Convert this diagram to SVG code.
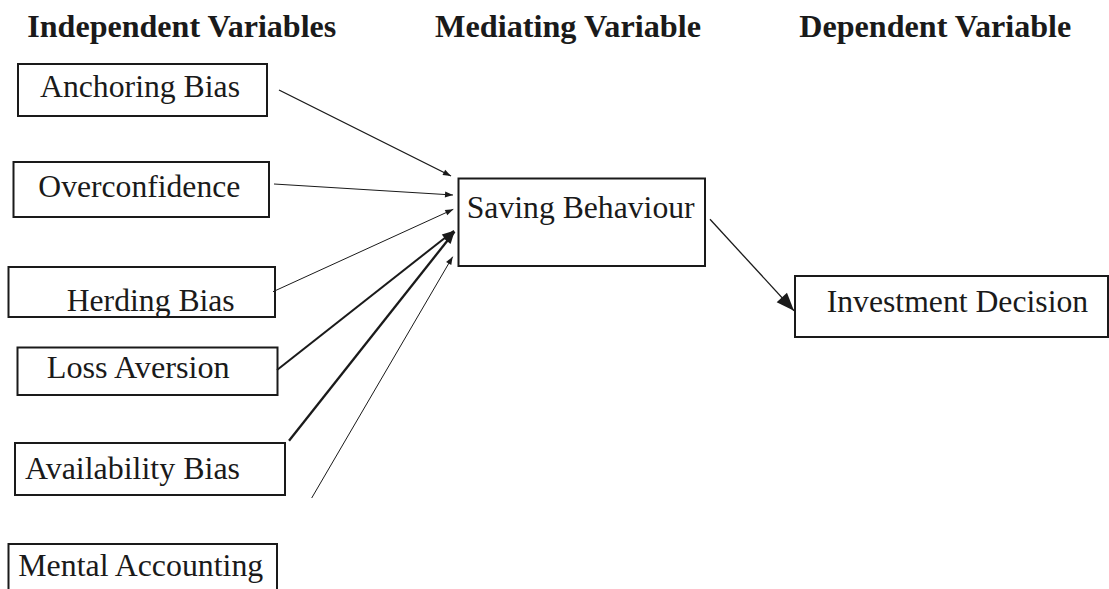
<svg xmlns="http://www.w3.org/2000/svg" width="1109" height="589" viewBox="0 0 1109 589">
<style>
.box{fill:#fff;stroke:#1a1a1a;stroke-width:2}
.t{font-size:31.7px;fill:#1a1a1a}
.h{font-size:31.7px;font-weight:bold;fill:#1a1a1a}
.c{stroke:#1a1a1a;fill:none}
</style>
<defs>
<marker id="a1" markerUnits="userSpaceOnUse" markerWidth="12" markerHeight="12" viewBox="0 0 12 12" refX="9" refY="6" orient="auto">
<path d="M1,3 L9,6 L1,9 Z" fill="#1a1a1a"/>
</marker>
<marker id="a2" markerUnits="userSpaceOnUse" markerWidth="16" markerHeight="16" viewBox="0 0 16 16" refX="13" refY="8" orient="auto">
<path d="M1,3.5 L13,8 L1,12.5 Z" fill="#1a1a1a"/>
</marker>
<marker id="a3" markerUnits="userSpaceOnUse" markerWidth="22" markerHeight="22" viewBox="0 0 22 22" refX="20" refY="11" orient="auto">
<path d="M2,4 L20,11 L2,18 Z" fill="#1a1a1a"/>
</marker>
</defs>
<g id="headers" font-family="'Liberation Serif', 'Times New Roman', Times, 'DejaVu Serif', serif">
<text class="h" x="27.3" y="37.3" textLength="309" lengthAdjust="spacingAndGlyphs">Independent Variables</text>
<text class="h" x="435" y="37.3" textLength="266" lengthAdjust="spacingAndGlyphs">Mediating Variable</text>
<text class="h" x="799.3" y="37.3" textLength="272" lengthAdjust="spacingAndGlyphs">Dependent Variable</text>
</g>
<g id="nodes" font-family="'Liberation Serif', 'Times New Roman', Times, 'DejaVu Serif', serif">
<g id="anchoring">
<rect class="box" x="18" y="64" width="249" height="52"/>
<text class="t" x="40" y="97.3" textLength="200" lengthAdjust="spacingAndGlyphs">Anchoring Bias</text>
</g>
<g id="overconfidence">
<rect class="box" x="13.5" y="162" width="255.5" height="55"/>
<text class="t" x="38.3" y="197.3" textLength="202" lengthAdjust="spacingAndGlyphs">Overconfidence</text>
</g>
<g id="herding">
<rect class="box" x="8.5" y="267" width="266.5" height="50"/>
<text class="t" x="66.7" y="311" textLength="168" lengthAdjust="spacingAndGlyphs">Herding Bias</text>
</g>
<g id="loss">
<rect class="box" x="17.5" y="347.5" width="260" height="47.5"/>
<text class="t" x="46.7" y="378.3" textLength="183" lengthAdjust="spacingAndGlyphs">Loss Aversion</text>
</g>
<g id="availability">
<rect class="box" x="15" y="443" width="270" height="52"/>
<text class="t" x="25" y="479.3" textLength="215" lengthAdjust="spacingAndGlyphs">Availability Bias</text>
</g>
<g id="mental">
<rect class="box" x="8.5" y="544" width="268.5" height="60"/>
<text class="t" x="18.3" y="576" textLength="245" lengthAdjust="spacingAndGlyphs">Mental Accounting</text>
</g>
<g id="saving">
<rect class="box" x="458.5" y="178.5" width="246.5" height="87.5"/>
<text class="t" x="466.7" y="218.3" textLength="228" lengthAdjust="spacingAndGlyphs">Saving Behaviour</text>
</g>
<g id="investment">
<rect class="box" x="795" y="276" width="313" height="61"/>
<text class="t" x="826.7" y="312.3" textLength="261.5" lengthAdjust="spacingAndGlyphs">Investment Decision</text>
</g>
</g>
<g id="connectors">
<line class="c" stroke-width="1.3" x1="279" y1="90" x2="451" y2="176" marker-end="url(#a1)"/>
<line class="c" stroke-width="1" x1="274" y1="184" x2="453" y2="195" marker-end="url(#a1)"/>
<line class="c" stroke-width="1" x1="273" y1="291.7" x2="453.3" y2="209.3" marker-end="url(#a1)"/>
<line class="c" stroke-width="2" x1="277" y1="370" x2="454" y2="230.7" marker-end="url(#a2)"/>
<line class="c" stroke-width="2.3" x1="289" y1="440.7" x2="454.5" y2="231.7" marker-end="url(#a2)"/>
<line class="c" stroke-width="1" x1="311.7" y1="498" x2="452.7" y2="256.7" marker-end="url(#a1)"/>
<line class="c" stroke-width="1.3" x1="710" y1="219.3" x2="794" y2="310.7" marker-end="url(#a3)"/>
</g>
</svg>
